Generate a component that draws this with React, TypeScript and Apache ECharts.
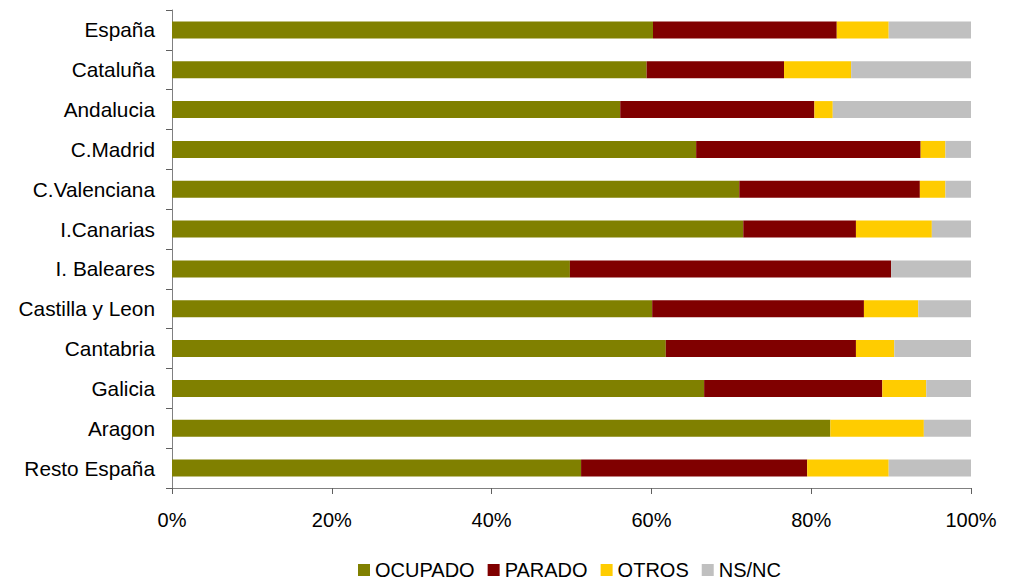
import React, { useEffect, useRef } from "react";
import * as echarts from "echarts";

const categories = [
  "España",
  "Cataluña",
  "Andalucia",
  "C.Madrid",
  "C.Valenciana",
  "I.Canarias",
  "I. Baleares",
  "Castilla y Leon",
  "Cantabria",
  "Galicia",
  "Aragon",
  "Resto España",
];

const ocupado = [60.2, 59.4, 56.1, 65.6, 71.0, 71.5, 49.8, 60.1, 61.8, 66.6, 82.4, 51.2];
const parado = [23.0, 17.2, 24.3, 28.1, 22.6, 14.1, 40.2, 26.5, 23.8, 22.3, 0, 28.3];
const otros = [6.5, 8.4, 2.3, 3.1, 3.2, 9.5, 0, 6.8, 4.8, 5.5, 11.7, 10.2];
const nsnc = [10.3, 15.0, 17.3, 3.2, 3.2, 4.9, 10.0, 6.6, 9.6, 5.6, 5.9, 10.3];

const seriesNames = ["OCUPADO", "PARADO", "OTROS", "NS/NC"];
const seriesColors = ["#808000", "#800000", "#FFCC00", "#C0C0C0"];
const seriesData = [ocupado, parado, otros, nsnc];

const FONT = "'Liberation Sans', Arial, sans-serif";

export default function App() {
  const ref = useRef<HTMLDivElement>(null);

  useEffect(() => {
    if (!ref.current) return;
    const chart = echarts.init(ref.current, undefined, { renderer: "svg" });
    chart.setOption({
      animation: false,
      backgroundColor: "#ffffff",
      textStyle: { fontFamily: FONT },
      grid: { left: 172, right: 47, top: 10, bottom: 94, containLabel: false },
      legend: {
        left: 358,
        top: 560,
        padding: 0,
        itemWidth: 12,
        itemHeight: 12,
        itemGap: 13,
        icon: "rect",
        textStyle: { fontSize: 20, color: "#000", fontFamily: FONT, lineHeight: 18 },
        data: seriesNames,
      },
      xAxis: {
        type: "value",
        min: 0,
        max: 100,
        interval: 20,
        splitLine: { show: false },
        axisLine: { show: true, lineStyle: { color: "#808080", width: 1 } },
        axisTick: { show: true, length: 6, lineStyle: { color: "#606060" } },
        axisLabel: {
          formatter: "{value}%",
          fontSize: 20,
          lineHeight: 20,
          color: "#000",
          margin: 22,
          fontFamily: FONT,
        },
      },
      yAxis: {
        type: "category",
        inverse: true,
        data: categories,
        axisLine: { show: true, lineStyle: { color: "#808080", width: 1 } },
        axisTick: { show: true, length: 6, lineStyle: { color: "#606060" } },
        axisLabel: { fontSize: 20.8, color: "#000", margin: 17, fontFamily: FONT },
      },
      series: seriesNames.map((name, i) => ({
        name,
        type: "bar",
        stack: "total",
        barWidth: 17,
        itemStyle: { color: seriesColors[i] },
        data: seriesData[i],
      })),
    });
    return () => chart.dispose();
  }, []);

  return (
    <div
      ref={ref}
      style={{ position: "fixed", left: 0, top: 0, width: 1018, height: 582 }}
    />
  );
}
